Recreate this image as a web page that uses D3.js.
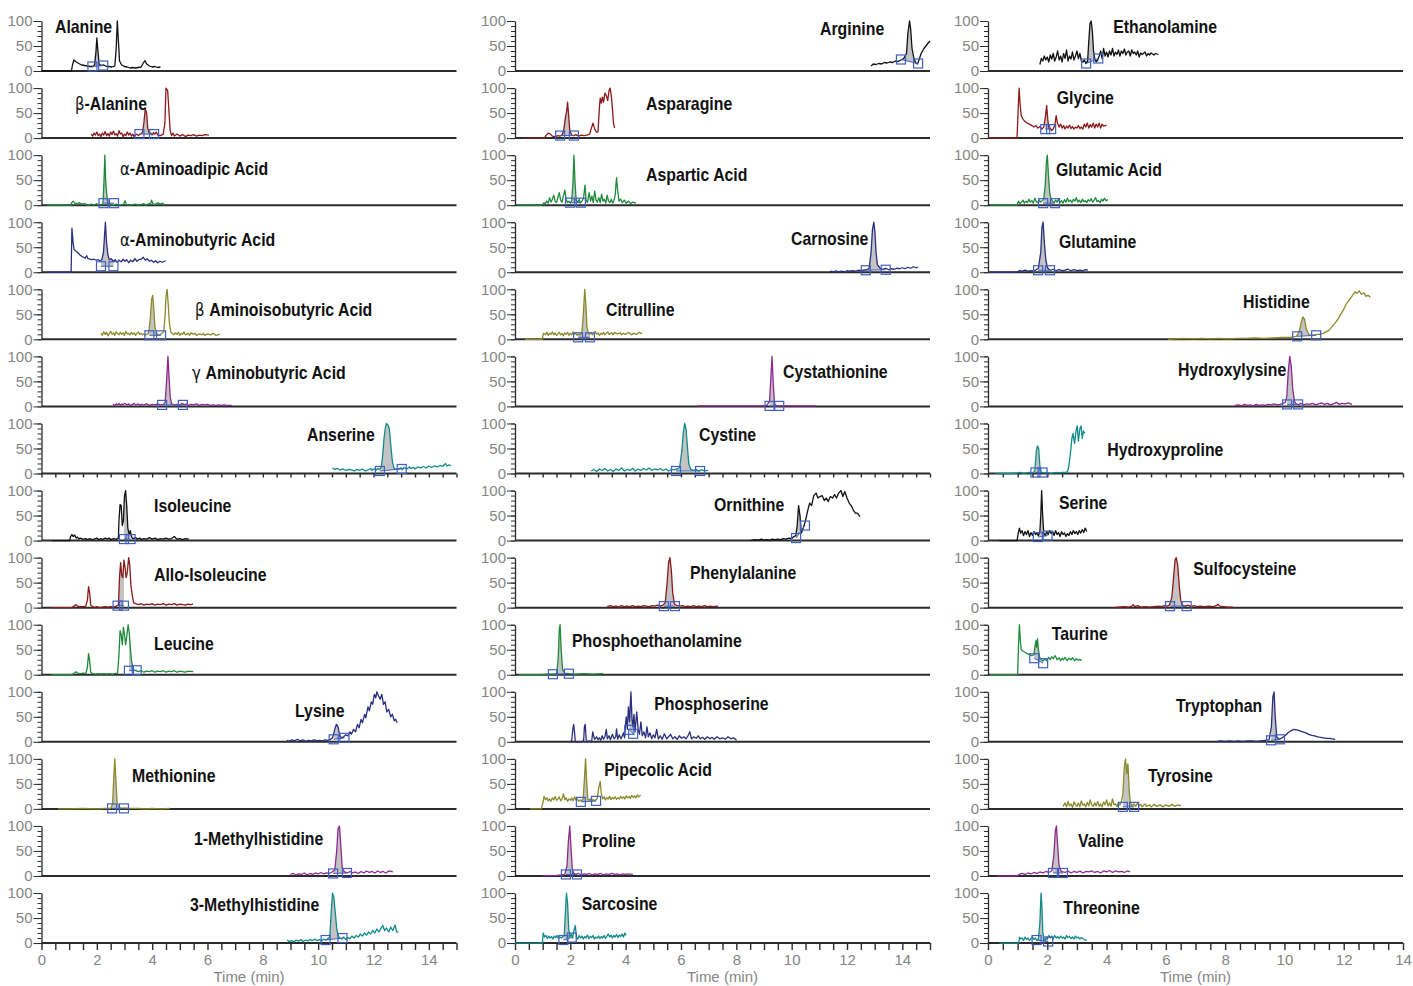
<!DOCTYPE html>
<html>
<head>
<meta charset="utf-8">
<script src="https://cdn.jsdelivr.net/npm/d3@7"></script>
<style>
  body { margin: 0; background: #fff; }
  svg { display: block; }
</style>
</head>
<body>
<script>
// ---------- compound names, top to bottom in each column ----------
const column1 = ["Alanine", "β-Alanine", "α-Aminoadipic Acid", "α-Aminobutyric Acid", "β Aminoisobutyric Acid",
  "γ Aminobutyric Acid", "Anserine", "Isoleucine", "Allo-Isoleucine", "Leucine", "Lysine", "Methionine",
  "1-Methylhistidine", "3-Methylhistidine"];
const column2 = ["Arginine", "Asparagine", "Aspartic Acid", "Carnosine", "Citrulline", "Cystathionine", "Cystine",
  "Ornithine", "Phenylalanine", "Phosphoethanolamine", "Phosphoserine", "Pipecolic Acid", "Proline", "Sarcosine"];
const column3 = ["Ethanolamine", "Glycine", "Glutamic Acid", "Glutamine", "Histidine", "Hydroxylysine",
  "Hydroxyproline", "Serine", "Sulfocysteine", "Taurine", "Tryptophan", "Tyrosine", "Valine", "Threonine"];

const traceColors = ["#111111", "#8b1a1a", "#1e8a3c", "#2a2e7e", "#8a8a2a", "#8e2a8e", "#108a8a"];

const yTickLabels = [0, 50, 100];
const timeLabels = [0, 2, 4, 6, 8, 10, 12, 14];

// ---------- chromatogram traces: [time (min), relative abundance (%)] ----------
const alanine = [[0,0],[1.08,0],[1.12,12],[1.17,22],[1.25,18],[1.35,15],[1.45,12],[1.55,11],[1.65,10],[1.75,9],[1.85,9],[1.92,12],[1.97,40],[2.0,66],[2.04,40],[2.08,14],[2.15,11],[2.25,12],[2.35,9],[2.45,9],[2.55,8],[2.65,10],[2.7,45],[2.74,100],[2.78,60],[2.82,20],[2.9,12],[3.0,9],[3.1,8],[3.2,6],[3.3,7],[3.4,6],[3.5,7],[3.6,8],[3.68,16],[3.74,21],[3.8,14],[3.9,10],[4.0,8],[4.1,9],[4.2,7],[4.3,8]];
const betaAlanine = [[1.8,8],[1.85,4],[1.9,10],[1.95,6],[2.0,12],[2.05,5],[2.1,8],[2.15,3],[2.2,10],[2.25,6],[2.3,13],[2.35,5],[2.4,9],[2.45,4],[2.5,12],[2.55,7],[2.6,14],[2.65,6],[2.7,9],[2.75,4],[2.8,15],[2.85,8],[2.9,10],[2.95,3],[3.0,8],[3.05,5],[3.1,12],[3.15,6],[3.2,10],[3.25,4],[3.3,8],[3.35,3],[3.4,6],[3.45,8],[3.5,5],[3.55,7],[3.6,9],[3.65,12],[3.7,30],[3.75,58],[3.8,50],[3.84,20],[3.9,8],[3.95,10],[4.0,6],[4.05,11],[4.1,8],[4.15,12],[4.2,6],[4.3,5],[4.4,8],[4.46,30],[4.5,100],[4.56,95],[4.6,60],[4.65,15],[4.7,5],[4.75,10],[4.8,4],[4.9,8],[5.0,4],[5.1,7],[5.2,3],[5.3,6],[5.4,5],[5.5,7],[5.6,4],[5.7,6],[5.8,5],[5.9,7],[6.05,6]];
const aminoadipicAcid = [[0.2,0],[1.05,0],[1.1,5],[1.15,8],[1.2,4],[1.3,3],[1.35,5],[1.45,2],[1.55,3],[1.7,0],[1.8,2],[1.9,0],[2.0,3],[2.05,0],[2.15,1],[2.22,2],[2.26,50],[2.29,100],[2.32,48],[2.36,20],[2.4,2],[2.5,1],[2.6,0],[2.7,2],[2.8,0],[2.9,1],[2.97,2],[3.02,9],[3.07,1],[3.2,0],[3.4,2],[3.5,0],[3.6,1],[3.7,3],[3.75,0],[3.85,2],[3.95,4],[3.98,10],[4.02,3],[4.1,1],[4.2,5],[4.3,2],[4.38,4],[4.46,0]];
const aminobutyricAcid = [[0.2,0],[1.07,0],[1.1,88],[1.14,60],[1.18,45],[1.25,42],[1.3,40],[1.38,35],[1.45,32],[1.52,30],[1.58,28],[1.63,33],[1.68,27],[1.75,26],[1.82,25],[1.9,26],[1.98,24],[2.05,25],[2.12,23],[2.18,25],[2.24,40],[2.28,75],[2.31,100],[2.35,60],[2.4,35],[2.45,25],[2.52,27],[2.6,22],[2.67,25],[2.73,20],[2.8,24],[2.88,21],[2.95,26],[3.02,22],[3.08,25],[3.15,19],[3.22,24],[3.3,21],[3.38,27],[3.45,22],[3.52,25],[3.6,26],[3.68,30],[3.75,24],[3.82,27],[3.9,22],[3.97,24],[4.05,20],[4.12,23],[4.2,19],[4.28,22],[4.36,20],[4.45,22],[4.49,23]];
const aminoisobutyricAcid = [[2.15,12],[2.2,8],[2.25,15],[2.3,10],[2.35,14],[2.4,7],[2.45,12],[2.5,16],[2.55,10],[2.6,13],[2.65,8],[2.7,15],[2.75,11],[2.8,9],[2.85,14],[2.9,10],[2.95,13],[3.0,8],[3.05,16],[3.1,11],[3.15,12],[3.2,9],[3.25,14],[3.3,10],[3.35,13],[3.4,8],[3.45,12],[3.5,15],[3.55,10],[3.6,12],[3.65,9],[3.7,11],[3.75,8],[3.8,10],[3.87,12],[3.93,40],[3.98,80],[4.02,88],[4.06,60],[4.1,25],[4.15,12],[4.2,10],[4.28,9],[4.35,12],[4.42,15],[4.47,50],[4.5,85],[4.54,100],[4.58,70],[4.62,35],[4.67,15],[4.72,12],[4.78,9],[4.85,13],[4.9,10],[4.95,14],[5.0,8],[5.05,12],[5.1,10],[5.15,15],[5.2,9],[5.3,12],[5.35,8],[5.4,13],[5.5,10],[5.55,12],[5.6,8],[5.7,11],[5.8,9],[5.85,12],[5.9,8],[6.0,11],[6.1,9],[6.2,12],[6.3,8],[6.45,10]];
const gammaAminobutyricAcid = [[2.58,4],[2.65,2],[2.7,5],[2.75,3],[2.8,6],[2.85,2],[2.9,5],[2.95,3],[3.0,6],[3.1,3],[3.15,5],[3.2,2],[3.3,4],[3.35,6],[3.4,3],[3.5,5],[3.55,2],[3.6,4],[3.7,3],[3.8,5],[3.9,2],[4.0,4],[4.1,3],[4.2,5],[4.3,3],[4.4,4],[4.47,8],[4.52,50],[4.57,100],[4.61,60],[4.65,20],[4.7,5],[4.8,3],[4.9,4],[5.0,2],[5.05,5],[5.1,6],[5.15,3],[5.25,5],[5.3,2],[5.4,4],[5.5,3],[5.6,5],[5.7,2],[5.8,4],[5.9,3],[6.0,4],[6.1,2],[6.2,3],[6.3,2],[6.4,3],[6.5,2],[6.6,3],[6.7,2],[6.88,2]];
const anserine = [[10.52,11],[10.6,8],[10.7,10],[10.8,7],[10.9,9],[11.0,6],[11.1,8],[11.2,7],[11.3,5],[11.4,8],[11.5,6],[11.6,9],[11.7,5],[11.8,7],[11.9,10],[11.95,6],[12.0,9],[12.1,7],[12.15,10],[12.2,8],[12.28,12],[12.33,35],[12.38,70],[12.43,92],[12.47,100],[12.52,97],[12.57,90],[12.62,60],[12.68,25],[12.73,12],[12.8,8],[12.9,9],[13.0,11],[13.05,8],[13.1,12],[13.2,9],[13.3,13],[13.35,10],[13.45,12],[13.5,9],[13.6,13],[13.7,11],[13.8,14],[13.9,11],[14.0,15],[14.1,12],[14.2,15],[14.3,13],[14.4,16],[14.5,14],[14.6,20],[14.65,15],[14.75,17],[14.8,15]];
const isoleucine = [[0.37,0],[1.02,0],[1.05,8],[1.1,12],[1.15,8],[1.2,11],[1.25,5],[1.3,7],[1.35,3],[1.4,5],[1.5,3],[1.6,4],[1.65,2],[1.75,4],[1.8,2],[1.9,3],[2.0,5],[2.05,2],[2.15,4],[2.2,2],[2.3,5],[2.4,3],[2.45,5],[2.5,2],[2.6,4],[2.7,3],[2.78,5],[2.8,40],[2.84,72],[2.88,70],[2.92,30],[2.96,40],[3.0,90],[3.04,100],[3.08,70],[3.12,25],[3.17,12],[3.21,20],[3.25,8],[3.3,4],[3.4,6],[3.45,3],[3.55,5],[3.6,2],[3.7,4],[3.8,3],[3.9,6],[4.0,3],[4.1,5],[4.2,2],[4.3,4],[4.4,3],[4.5,5],[4.6,3],[4.7,4],[4.8,8],[4.85,5],[4.9,3],[5.0,4],[5.1,2],[5.2,4],[5.33,3]];
const alloIsoleucine = [[0.37,0],[1.1,0],[1.2,4],[1.25,6],[1.3,3],[1.4,2],[1.5,2],[1.6,3],[1.66,15],[1.7,42],[1.74,30],[1.78,5],[1.85,2],[1.9,0],[2.0,2],[2.1,0],[2.2,1],[2.3,2],[2.4,1],[2.5,2],[2.6,1],[2.7,3],[2.78,5],[2.82,60],[2.86,90],[2.9,65],[2.94,60],[2.98,95],[3.02,80],[3.06,60],[3.1,70],[3.15,100],[3.19,85],[3.23,45],[3.28,25],[3.33,10],[3.4,8],[3.5,6],[3.6,8],[3.7,5],[3.8,7],[3.9,6],[4.0,8],[4.1,5],[4.2,7],[4.3,6],[4.4,8],[4.5,5],[4.6,7],[4.7,6],[4.8,8],[4.9,5],[5.0,7],[5.1,6],[5.2,5],[5.3,7],[5.4,6],[5.48,7]];
const leucine = [[0.37,0],[1.1,0],[1.2,4],[1.25,6],[1.3,3],[1.4,2],[1.5,3],[1.6,2],[1.66,15],[1.7,42],[1.74,28],[1.78,5],[1.85,2],[1.95,1],[2.05,2],[2.15,1],[2.25,2],[2.35,1],[2.45,2],[2.55,1],[2.65,2],[2.75,3],[2.8,40],[2.84,88],[2.88,80],[2.92,60],[2.96,95],[3.0,80],[3.04,60],[3.08,75],[3.13,100],[3.17,85],[3.21,55],[3.26,25],[3.32,10],[3.4,8],[3.5,6],[3.6,8],[3.7,5],[3.8,7],[3.9,6],[4.0,8],[4.1,5],[4.2,7],[4.3,6],[4.4,8],[4.5,5],[4.6,7],[4.7,6],[4.8,8],[4.9,5],[5.0,7],[5.1,6],[5.2,5],[5.3,7],[5.48,6]];
const lysine = [[8.87,3],[8.95,1],[9.05,4],[9.15,2],[9.25,5],[9.35,2],[9.45,4],[9.55,1],[9.65,3],[9.75,2],[9.85,4],[9.95,2],[10.05,3],[10.15,2],[10.25,4],[10.35,3],[10.45,5],[10.52,8],[10.6,25],[10.66,35],[10.72,30],[10.78,12],[10.85,8],[10.92,10],[11.0,14],[11.08,12],[11.15,20],[11.2,15],[11.28,25],[11.35,20],[11.42,35],[11.48,28],[11.55,45],[11.6,38],[11.68,55],[11.72,48],[11.8,70],[11.85,62],[11.92,80],[11.97,75],[12.03,95],[12.08,88],[12.12,100],[12.18,92],[12.24,85],[12.3,95],[12.36,75],[12.42,80],[12.48,60],[12.55,65],[12.62,50],[12.68,55],[12.75,42],[12.8,45],[12.85,38]];
const methionine = [[0.6,0],[1.0,0],[1.5,1],[2.0,0],[2.3,1],[2.5,1],[2.57,10],[2.61,60],[2.65,100],[2.69,55],[2.73,15],[2.8,3],[2.9,1],[3.0,2],[3.2,1],[3.5,1],[3.8,0],[4.0,1],[4.3,0],[4.64,1]];
const methylhistidine1 = [[9.0,3],[9.1,5],[9.2,2],[9.3,4],[9.4,3],[9.5,6],[9.6,2],[9.7,5],[9.8,3],[9.9,6],[10.0,4],[10.1,7],[10.2,4],[10.3,6],[10.4,5],[10.5,8],[10.6,12],[10.67,50],[10.72,95],[10.77,100],[10.82,60],[10.87,15],[10.95,8],[11.05,6],[11.15,9],[11.25,6],[11.35,8],[11.45,5],[11.55,9],[11.65,6],[11.75,10],[11.85,7],[11.95,9],[12.05,6],[12.15,10],[12.25,7],[12.35,9],[12.45,6],[12.55,10],[12.7,8]];
const methylhistidine3 = [[8.88,6],[8.95,3],[9.05,5],[9.12,2],[9.2,6],[9.3,4],[9.38,7],[9.45,3],[9.55,6],[9.62,4],[9.7,7],[9.8,5],[9.88,8],[9.95,5],[10.05,7],[10.12,4],[10.2,8],[10.28,6],[10.35,9],[10.42,12],[10.47,60],[10.52,100],[10.57,90],[10.62,60],[10.67,30],[10.72,15],[10.78,10],[10.85,8],[10.92,12],[11.0,7],[11.07,11],[11.15,9],[11.22,14],[11.3,10],[11.37,15],[11.45,12],[11.52,18],[11.6,14],[11.67,20],[11.75,16],[11.82,22],[11.9,18],[11.97,25],[12.05,20],[12.12,28],[12.2,22],[12.27,30],[12.34,35],[12.4,25],[12.47,30],[12.55,22],[12.62,32],[12.7,25],[12.78,36],[12.84,22],[12.9,22]];

const arginine = [[12.87,10],[12.95,14],[13.05,13],[13.15,15],[13.25,14],[13.35,17],[13.45,16],[13.55,18],[13.65,17],[13.75,20],[13.85,19],[13.95,22],[14.05,25],[14.15,35],[14.2,75],[14.26,100],[14.3,85],[14.35,45],[14.42,25],[14.5,15],[14.55,14],[14.6,22],[14.68,35],[14.78,45],[14.85,50],[14.92,55],[15.0,60]];
const asparagine = [[0.36,0],[1.06,0],[1.12,5],[1.2,10],[1.28,8],[1.35,4],[1.45,3],[1.55,5],[1.62,4],[1.7,6],[1.76,15],[1.82,40],[1.87,55],[1.9,72],[1.94,45],[1.98,15],[2.05,6],[2.12,5],[2.2,7],[2.3,4],[2.4,6],[2.5,5],[2.6,6],[2.7,8],[2.76,20],[2.82,30],[2.88,18],[2.95,12],[3.0,12],[3.05,60],[3.08,80],[3.12,70],[3.16,82],[3.2,72],[3.25,90],[3.3,85],[3.35,75],[3.4,95],[3.44,100],[3.48,85],[3.52,60],[3.56,30],[3.6,20]];
const asparticAcid = [[0.07,0],[0.98,0],[1.05,5],[1.1,3],[1.15,8],[1.2,4],[1.25,15],[1.3,6],[1.35,12],[1.4,20],[1.45,8],[1.5,5],[1.55,15],[1.6,25],[1.65,10],[1.7,6],[1.75,18],[1.8,30],[1.85,12],[1.9,5],[1.95,8],[2.0,4],[2.05,10],[2.09,40],[2.13,100],[2.17,45],[2.21,10],[2.27,6],[2.32,12],[2.36,4],[2.42,8],[2.48,15],[2.53,40],[2.57,10],[2.62,5],[2.68,25],[2.73,8],[2.78,18],[2.83,5],[2.88,28],[2.93,10],[2.98,6],[3.03,15],[3.08,5],[3.13,22],[3.18,8],[3.23,12],[3.28,4],[3.33,20],[3.38,8],[3.43,5],[3.48,12],[3.53,4],[3.58,10],[3.62,20],[3.67,55],[3.71,30],[3.76,8],[3.82,12],[3.88,5],[3.95,10],[4.02,4],[4.1,8],[4.18,3],[4.25,6],[4.37,4]];
const carnosine = [[11.38,2],[11.5,1],[11.6,3],[11.7,1],[11.8,2],[11.9,1],[12.0,3],[12.1,2],[12.2,3],[12.3,2],[12.4,4],[12.5,3],[12.6,4],[12.7,5],[12.8,8],[12.87,40],[12.92,85],[12.97,100],[13.01,80],[13.05,40],[13.1,15],[13.2,8],[13.3,6],[13.4,8],[13.5,5],[13.6,7],[13.7,6],[13.8,8],[13.9,7],[14.0,9],[14.1,7],[14.2,10],[14.3,8],[14.4,11],[14.5,9],[14.56,10]];
const citrulline = [[0.36,0],[0.98,0],[1.03,12],[1.1,9],[1.15,14],[1.2,8],[1.25,12],[1.3,10],[1.35,15],[1.4,9],[1.45,13],[1.5,8],[1.55,11],[1.6,14],[1.65,9],[1.7,12],[1.75,7],[1.8,13],[1.85,10],[1.9,14],[1.95,8],[2.0,12],[2.05,9],[2.1,15],[2.15,10],[2.2,12],[2.25,8],[2.3,11],[2.36,9],[2.42,14],[2.47,50],[2.52,100],[2.56,70],[2.6,25],[2.65,12],[2.7,10],[2.75,14],[2.8,9],[2.85,12],[2.9,16],[2.95,10],[3.0,13],[3.05,8],[3.1,12],[3.15,10],[3.2,14],[3.25,9],[3.3,12],[3.35,15],[3.4,10],[3.5,13],[3.55,9],[3.6,14],[3.7,11],[3.8,13],[3.85,9],[3.9,12],[4.0,10],[4.1,14],[4.2,9],[4.3,12],[4.4,10],[4.5,14],[4.59,11]];
const cystathionine = [[6.61,1],[7.0,1],[7.5,1],[8.0,1],[8.5,1],[8.9,1],[9.1,2],[9.2,10],[9.25,60],[9.29,100],[9.33,50],[9.38,5],[9.45,1],[9.8,1],[10.2,1],[10.5,1],[10.88,1]];
const cystine = [[2.75,5],[2.85,8],[2.95,4],[3.05,9],[3.15,6],[3.25,10],[3.35,5],[3.45,8],[3.55,4],[3.65,9],[3.75,6],[3.85,11],[3.95,5],[4.05,8],[4.15,6],[4.25,10],[4.35,5],[4.45,9],[4.55,6],[4.65,10],[4.75,7],[4.85,11],[4.95,6],[5.05,9],[5.15,7],[5.25,10],[5.35,6],[5.45,9],[5.55,5],[5.65,8],[5.75,7],[5.85,9],[5.95,12],[6.03,45],[6.08,80],[6.13,100],[6.18,90],[6.23,55],[6.28,20],[6.35,8],[6.45,6],[6.55,8],[6.65,5],[6.75,7],[6.85,5],[6.98,6]];
const ornithine = [[8.49,0],[8.6,1],[8.7,2],[8.8,1],[8.9,3],[9.0,1],[9.1,2],[9.2,1],[9.3,3],[9.4,2],[9.5,3],[9.6,2],[9.7,4],[9.8,3],[9.9,5],[10.0,4],[10.08,8],[10.15,10],[10.2,30],[10.25,70],[10.3,50],[10.35,15],[10.42,25],[10.5,40],[10.58,60],[10.65,75],[10.72,70],[10.8,90],[10.88,95],[10.95,85],[11.02,88],[11.1,90],[11.18,80],[11.25,85],[11.32,78],[11.4,88],[11.48,85],[11.55,92],[11.62,85],[11.7,95],[11.78,100],[11.85,88],[11.92,98],[12.0,85],[12.08,75],[12.15,70],[12.22,62],[12.3,55],[12.38,55],[12.47,48]];
const phenylalanine = [[3.33,2],[3.45,4],[3.55,2],[3.65,3],[3.75,1],[3.85,4],[3.95,2],[4.05,3],[4.15,2],[4.25,4],[4.35,2],[4.45,3],[4.55,2],[4.65,4],[4.75,3],[4.85,2],[4.95,4],[5.05,3],[5.15,5],[5.25,3],[5.35,5],[5.43,10],[5.5,50],[5.55,90],[5.6,100],[5.65,75],[5.7,30],[5.76,8],[5.85,4],[5.95,3],[6.05,4],[6.15,2],[6.25,3],[6.35,2],[6.45,4],[6.55,2],[6.65,3],[6.75,2],[6.85,4],[6.95,2],[7.05,3],[7.15,2],[7.34,3]];
const phosphoethanolamine = [[0.14,0],[0.9,0],[1.2,1],[1.4,1],[1.5,2],[1.56,30],[1.6,90],[1.63,100],[1.67,50],[1.72,10],[1.8,3],[1.95,2],[2.2,1],[2.5,2],[2.8,1],[3.18,2]];
const phosphoserine = [[1.99,0],[2.05,2],[2.09,25],[2.12,35],[2.15,20],[2.18,0],[2.3,0],[2.4,0],[2.48,2],[2.51,30],[2.54,35],[2.57,5],[2.62,0],[2.7,2],[2.77,0],[2.81,20],[2.84,12],[2.88,5],[2.95,10],[3.0,4],[3.05,8],[3.1,3],[3.15,12],[3.2,5],[3.25,10],[3.3,25],[3.34,6],[3.4,12],[3.45,4],[3.52,15],[3.58,6],[3.64,10],[3.67,26],[3.71,5],[3.77,14],[3.83,6],[3.88,12],[3.92,18],[3.96,8],[4.02,50],[4.06,25],[4.1,70],[4.14,40],[4.19,100],[4.23,45],[4.26,30],[4.3,55],[4.34,20],[4.4,60],[4.45,25],[4.5,15],[4.55,40],[4.6,12],[4.66,20],[4.72,8],[4.77,30],[4.82,10],[4.88,18],[4.94,6],[5.0,14],[5.06,8],[5.12,25],[5.18,6],[5.25,12],[5.32,5],[5.4,16],[5.48,6],[5.55,10],[5.62,15],[5.7,6],[5.78,10],[5.86,5],[5.94,12],[6.02,7],[6.1,10],[6.18,6],[6.25,12],[6.32,20],[6.38,6],[6.46,10],[6.55,7],[6.62,12],[6.7,6],[6.78,9],[6.86,5],[6.95,10],[7.05,6],[7.12,9],[7.2,5],[7.3,10],[7.4,6],[7.5,8],[7.6,5],[7.7,10],[7.8,6],[7.9,8],[8.01,3]];
const pipecolicAcid = [[0.54,0],[0.95,0],[1.0,10],[1.05,25],[1.1,18],[1.15,22],[1.2,16],[1.25,20],[1.3,15],[1.35,22],[1.4,18],[1.45,25],[1.5,17],[1.55,20],[1.6,24],[1.65,16],[1.7,20],[1.75,30],[1.8,18],[1.85,22],[1.9,15],[1.95,20],[2.0,17],[2.05,22],[2.1,16],[2.15,24],[2.2,18],[2.25,20],[2.3,15],[2.35,18],[2.42,16],[2.46,20],[2.5,50],[2.55,100],[2.59,55],[2.63,20],[2.68,17],[2.72,20],[2.77,15],[2.82,19],[2.87,16],[2.92,18],[2.97,20],[3.02,40],[3.08,55],[3.12,30],[3.17,20],[3.22,24],[3.27,18],[3.32,22],[3.37,20],[3.42,25],[3.47,19],[3.52,23],[3.57,20],[3.62,24],[3.67,19],[3.72,22],[3.77,20],[3.82,25],[3.87,21],[3.92,24],[3.97,20],[4.02,26],[4.07,22],[4.12,25],[4.17,21],[4.22,27],[4.27,23],[4.32,26],[4.37,22],[4.42,28],[4.47,24],[4.54,28]];
const proline = [[1.0,0],[1.5,1],[1.7,2],[1.8,3],[1.88,20],[1.93,70],[1.98,100],[2.02,60],[2.07,15],[2.12,5],[2.2,3],[2.3,5],[2.4,2],[2.5,4],[2.6,3],[2.7,5],[2.8,2],[2.9,4],[3.0,3],[3.1,5],[3.2,2],[3.3,4],[3.4,3],[3.5,5],[3.6,3],[3.7,4],[3.8,2],[3.9,4],[4.0,3],[4.1,4],[4.26,3]];
const sarcosine = [[0.0,0],[0.99,0],[1.02,20],[1.07,12],[1.12,15],[1.17,9],[1.22,14],[1.27,10],[1.32,13],[1.37,8],[1.42,14],[1.47,11],[1.52,15],[1.57,9],[1.62,12],[1.68,10],[1.73,13],[1.78,15],[1.82,60],[1.86,100],[1.9,80],[1.94,30],[1.98,12],[2.03,18],[2.08,10],[2.13,25],[2.18,35],[2.22,12],[2.27,8],[2.32,15],[2.37,10],[2.42,14],[2.47,8],[2.52,13],[2.57,10],[2.62,16],[2.67,9],[2.72,13],[2.77,11],[2.82,15],[2.87,8],[2.92,12],[2.97,10],[3.02,14],[3.07,9],[3.12,13],[3.17,10],[3.22,15],[3.27,9],[3.32,14],[3.37,18],[3.42,12],[3.47,16],[3.52,10],[3.57,15],[3.62,12],[3.67,17],[3.72,11],[3.77,16],[3.82,13],[3.87,18],[3.92,12],[3.97,20],[4.01,15]];

const ethanolamine = [[1.75,13],[1.8,25],[1.85,20],[1.9,30],[1.95,22],[2.0,28],[2.05,18],[2.1,32],[2.15,24],[2.2,35],[2.25,20],[2.3,28],[2.35,40],[2.4,22],[2.45,30],[2.5,18],[2.55,35],[2.6,25],[2.65,42],[2.7,20],[2.75,30],[2.8,24],[2.85,38],[2.9,22],[2.95,30],[3.0,40],[3.05,25],[3.1,35],[3.15,20],[3.2,18],[3.25,22],[3.3,15],[3.36,20],[3.4,60],[3.44,95],[3.48,100],[3.52,80],[3.56,40],[3.6,25],[3.65,18],[3.7,22],[3.75,30],[3.8,40],[3.85,25],[3.9,45],[3.95,30],[4.0,38],[4.05,28],[4.1,40],[4.15,32],[4.2,45],[4.25,30],[4.3,38],[4.35,33],[4.4,42],[4.45,30],[4.5,40],[4.55,35],[4.6,44],[4.65,32],[4.7,38],[4.75,40],[4.8,30],[4.85,42],[4.9,35],[4.95,38],[5.0,32],[5.05,40],[5.1,28],[5.15,36],[5.2,33],[5.3,38],[5.35,30],[5.4,35],[5.45,32],[5.5,36],[5.6,32],[5.65,35],[5.75,33]];
const glycine = [[0,0],[0.98,0],[1.02,60],[1.05,100],[1.08,70],[1.12,45],[1.18,38],[1.25,33],[1.32,30],[1.4,28],[1.48,25],[1.55,22],[1.62,25],[1.68,20],[1.75,23],[1.82,18],[1.88,22],[1.93,40],[1.98,65],[2.02,35],[2.06,18],[2.1,20],[2.15,15],[2.2,18],[2.25,25],[2.3,45],[2.34,30],[2.4,22],[2.45,28],[2.5,20],[2.55,25],[2.6,18],[2.65,24],[2.7,20],[2.75,26],[2.8,19],[2.85,23],[2.9,18],[2.95,22],[3.0,20],[3.05,25],[3.1,19],[3.15,22],[3.2,18],[3.25,28],[3.3,22],[3.35,30],[3.4,20],[3.45,27],[3.5,22],[3.55,30],[3.6,20],[3.65,28],[3.7,22],[3.75,30],[3.8,20],[3.85,28],[3.9,24],[4.0,26]];
const glutamicAcid = [[0.07,0],[0.98,0],[1.03,8],[1.08,3],[1.13,6],[1.18,10],[1.23,4],[1.28,8],[1.33,5],[1.38,12],[1.43,6],[1.48,9],[1.53,4],[1.58,14],[1.63,7],[1.68,5],[1.73,10],[1.78,6],[1.83,9],[1.88,12],[1.93,40],[1.97,85],[2.0,100],[2.04,60],[2.08,25],[2.13,12],[2.18,8],[2.23,5],[2.28,10],[2.33,6],[2.38,12],[2.43,5],[2.48,9],[2.53,4],[2.58,11],[2.63,6],[2.68,14],[2.73,7],[2.78,10],[2.83,5],[2.88,12],[2.93,8],[2.98,15],[3.03,6],[3.08,10],[3.13,5],[3.18,12],[3.23,7],[3.28,9],[3.33,5],[3.38,11],[3.43,8],[3.48,13],[3.53,6],[3.58,10],[3.63,15],[3.68,7],[3.73,9],[3.78,5],[3.83,12],[3.88,8],[3.93,14],[3.98,9],[4.05,11]];
const glutamine = [[0.07,0],[0.98,0],[1.05,3],[1.15,2],[1.25,4],[1.35,2],[1.45,3],[1.55,2],[1.62,5],[1.7,8],[1.78,40],[1.82,90],[1.86,100],[1.9,60],[1.95,25],[2.0,10],[2.05,6],[2.12,4],[2.2,6],[2.3,3],[2.4,5],[2.5,3],[2.6,4],[2.7,6],[2.8,3],[2.9,5],[3.0,3],[3.1,4],[3.2,3],[3.3,5],[3.37,4]];
const histidine = [[6.07,0],[6.3,1],[6.6,2],[6.9,1],[7.2,2],[7.5,1],[7.8,2],[8.1,1],[8.4,2],[8.7,2],[9.0,3],[9.3,2],[9.6,3],[9.9,4],[10.2,4],[10.4,6],[10.5,15],[10.57,35],[10.62,45],[10.68,40],[10.74,20],[10.82,10],[10.9,8],[11.0,9],[11.1,10],[11.2,10],[11.3,12],[11.4,15],[11.5,18],[11.6,25],[11.7,32],[11.8,40],[11.9,50],[12.0,60],[12.1,72],[12.2,80],[12.3,88],[12.38,95],[12.45,92],[12.52,97],[12.6,90],[12.68,93],[12.75,86],[12.82,88],[12.9,84]];
const hydroxylysine = [[8.33,2],[8.45,3],[8.55,1],[8.65,4],[8.75,2],[8.85,3],[8.95,1],[9.05,4],[9.15,2],[9.25,3],[9.35,2],[9.45,4],[9.55,3],[9.65,5],[9.75,3],[9.85,4],[9.95,6],[10.03,8],[10.08,20],[10.13,70],[10.18,100],[10.23,80],[10.28,35],[10.34,10],[10.4,5],[10.48,3],[10.55,6],[10.65,3],[10.75,5],[10.85,4],[10.95,6],[11.05,3],[11.15,5],[11.25,7],[11.35,4],[11.45,6],[11.55,3],[11.65,5],[11.75,8],[11.85,4],[11.95,6],[12.05,5],[12.15,7],[12.28,4]];
const hydroxyproline = [[0.24,0],[0.8,0],[1.0,1],[1.1,2],[1.2,0],[1.3,1],[1.4,2],[1.5,1],[1.58,5],[1.63,45],[1.67,55],[1.71,50],[1.75,15],[1.8,2],[1.9,1],[2.0,2],[2.1,0],[2.2,1],[2.3,2],[2.4,1],[2.5,2],[2.6,2],[2.68,3],[2.73,15],[2.78,40],[2.83,70],[2.87,80],[2.92,60],[2.97,85],[3.01,95],[3.05,65],[3.1,90],[3.14,95],[3.18,70],[3.22,85],[3.27,80]];
const serine = [[0.38,0],[0.98,0],[1.02,15],[1.06,25],[1.1,15],[1.15,20],[1.2,10],[1.25,18],[1.3,12],[1.35,20],[1.4,8],[1.45,16],[1.5,10],[1.55,18],[1.6,12],[1.65,15],[1.7,10],[1.75,18],[1.78,50],[1.81,100],[1.84,55],[1.88,15],[1.93,10],[1.98,18],[2.03,12],[2.08,20],[2.13,14],[2.18,18],[2.23,10],[2.28,20],[2.33,12],[2.38,16],[2.43,8],[2.48,18],[2.53,12],[2.58,15],[2.63,8],[2.68,14],[2.73,10],[2.78,18],[2.83,12],[2.88,20],[2.93,14],[2.98,18],[3.03,12],[3.08,20],[3.13,15],[3.18,22],[3.23,16],[3.28,25],[3.33,18]];
const sulfocysteine = [[4.23,0],[4.4,1],[4.6,2],[4.75,1],[4.85,3],[4.9,6],[4.95,2],[5.05,4],[5.15,1],[5.3,2],[5.45,1],[5.6,2],[5.75,3],[5.85,2],[5.95,4],[6.05,3],[6.12,5],[6.2,20],[6.26,60],[6.31,95],[6.35,100],[6.4,85],[6.45,45],[6.5,15],[6.56,5],[6.65,3],[6.75,5],[6.85,2],[6.95,4],[7.05,2],[7.15,3],[7.3,2],[7.45,3],[7.6,2],[7.7,4],[7.76,7],[7.82,3],[7.95,2],[8.1,1],[8.26,1]];
const taurine = [[0.07,0],[1.0,0],[1.03,60],[1.06,100],[1.09,70],[1.12,50],[1.18,47],[1.25,45],[1.32,42],[1.4,40],[1.48,38],[1.55,40],[1.58,55],[1.62,68],[1.64,55],[1.67,72],[1.7,50],[1.74,35],[1.8,30],[1.86,28],[1.92,32],[1.98,28],[2.05,35],[2.1,30],[2.15,36],[2.2,32],[2.27,38],[2.33,30],[2.4,34],[2.45,28],[2.5,33],[2.55,30],[2.6,35],[2.67,28],[2.73,33],[2.8,30],[2.86,34],[2.92,28],[2.98,32],[3.05,29],[3.1,31],[3.16,28]];
const tryptophan = [[7.73,1],[7.85,2],[8.0,1],[8.15,2],[8.3,1],[8.45,2],[8.6,1],[8.75,2],[8.9,2],[9.05,1],[9.2,2],[9.35,3],[9.48,4],[9.56,30],[9.61,90],[9.65,100],[9.69,50],[9.74,10],[9.82,5],[9.92,8],[10.02,12],[10.12,18],[10.22,22],[10.32,25],[10.42,24],[10.52,22],[10.62,20],[10.72,18],[10.82,15],[10.92,13],[11.02,12],[11.12,10],[11.22,9],[11.32,8],[11.42,7],[11.52,7],[11.62,6],[11.71,5]];
const tyrosine = [[2.53,5],[2.6,12],[2.65,4],[2.7,15],[2.75,6],[2.8,10],[2.85,3],[2.9,14],[2.95,8],[3.0,5],[3.05,12],[3.1,4],[3.15,16],[3.2,7],[3.25,10],[3.3,4],[3.35,13],[3.4,6],[3.45,18],[3.5,8],[3.55,5],[3.6,12],[3.65,6],[3.7,15],[3.75,5],[3.8,10],[3.85,4],[3.9,14],[3.95,8],[4.0,18],[4.05,6],[4.1,12],[4.15,5],[4.2,20],[4.25,8],[4.3,10],[4.35,5],[4.4,12],[4.45,8],[4.5,15],[4.55,30],[4.6,85],[4.64,100],[4.68,70],[4.72,90],[4.76,40],[4.8,12],[4.86,6],[4.92,10],[4.98,5],[5.05,12],[5.1,6],[5.15,9],[5.2,4],[5.3,10],[5.35,5],[5.45,8],[5.5,4],[5.6,9],[5.7,5],[5.8,8],[5.9,4],[6.0,8],[6.1,5],[6.2,9],[6.3,5],[6.4,8],[6.51,6]];
const valine = [[0.3,0],[0.98,0],[1.05,3],[1.15,5],[1.25,3],[1.35,6],[1.45,4],[1.55,7],[1.65,5],[1.75,8],[1.85,6],[1.95,9],[2.05,7],[2.15,10],[2.22,40],[2.27,90],[2.31,100],[2.35,60],[2.4,20],[2.46,10],[2.53,8],[2.6,7],[2.7,10],[2.8,6],[2.9,9],[3.0,7],[3.1,10],[3.2,6],[3.3,9],[3.4,8],[3.5,10],[3.6,7],[3.7,9],[3.8,6],[3.9,10],[4.0,8],[4.1,11],[4.2,7],[4.3,10],[4.4,8],[4.5,9],[4.6,7],[4.7,10],[4.79,8]];
const threonine = [[0.38,0],[1.04,0],[1.06,12],[1.1,8],[1.15,10],[1.2,5],[1.25,12],[1.3,7],[1.35,10],[1.4,5],[1.45,9],[1.5,12],[1.55,7],[1.6,10],[1.65,5],[1.7,8],[1.75,40],[1.79,100],[1.82,70],[1.85,20],[1.89,8],[1.93,5],[1.97,12],[2.0,8],[2.05,15],[2.1,10],[2.15,14],[2.2,8],[2.25,15],[2.3,10],[2.35,13],[2.4,9],[2.45,14],[2.5,10],[2.55,12],[2.6,8],[2.65,15],[2.7,11],[2.75,13],[2.8,9],[2.85,12],[2.9,8],[2.95,14],[3.0,10],[3.05,12],[3.1,8],[3.15,11],[3.2,9],[3.25,7],[3.33,6]];

// ---------- peak integration: [start time, start level, end time, end level] ----------
const windows1 = [[1.84,9,2.23,11],[3.54,8,4.07,8],[2.24,4,2.62,4],[2.15,12,2.6,12],[3.9,8,4.32,8],[4.36,3,5.11,3],
  [12.23,5,13.02,9],[2.98,3,3.22,3],[2.75,4,2.98,4],[3.16,8,3.44,9],[10.56,5,10.95,8],[2.55,1,2.98,1],
  [10.54,5,11.04,6],[10.27,6,10.88,10]];
const windows2 = [[13.95,23,14.57,15],[1.63,5,2.13,5],[1.99,5,2.38,5],[12.68,4,13.4,5],[2.28,4,2.71,4],[9.2,1,9.55,1],
  [5.82,5,6.69,5],[10.16,5,10.48,30],[5.38,3,5.78,3],[1.37,1,1.95,2],[4.13,24,4.27,16],[2.38,14,2.93,16],
  [1.84,3,2.24,3],[1.75,6,2.05,11]];
const windows3 = [[3.31,15,3.72,25],[1.93,18,2.13,18],[1.86,4,2.26,4],[1.69,4,2.09,4],[10.43,6,11.07,8],[10.09,4,10.46,4],
  [1.6,2,1.84,2],[1.68,7,2.01,10],[6.14,3,6.7,3],[1.56,33,1.86,23],[9.55,3,9.85,5],[4.55,4,4.93,4],
  [2.19,6,2.53,6],[1.64,6,2.03,3]];

const traces1 = [alanine, betaAlanine, aminoadipicAcid, aminobutyricAcid, aminoisobutyricAcid, gammaAminobutyricAcid,
  anserine, isoleucine, alloIsoleucine, leucine, lysine, methionine, methylhistidine1, methylhistidine3];
const traces2 = [arginine, asparagine, asparticAcid, carnosine, citrulline, cystathionine, cystine, ornithine,
  phenylalanine, phosphoethanolamine, phosphoserine, pipecolicAcid, proline, sarcosine];
const traces3 = [ethanolamine, glycine, glutamicAcid, glutamine, histidine, hydroxylysine, hydroxyproline, serine,
  sulfocysteine, taurine, tryptophan, tyrosine, valine, threonine];

// ---------- layout ----------
const W = 1413, H = 986;
const panelTop0 = 21, rowPitch = 67.08, panelH = 50;
const columnLayout = [
  { x0: 41.5, x1: 456.5, tMax: 15 },
  { x0: 515, x1: 930, tMax: 15 },
  { x0: 988, x1: 1403, tMax: 14 }
];
// name label anchor per panel: [offset right of y axis, label mid-height below panel top]
const labelOffsets1 = [[13.5,6],[33.5,16],[78.5,13],[78.5,17],[153.5,20],[150.5,16],[265.5,11.5],[112.5,15.4],
  [112.5,17.4],[112.5,19],[253.5,19.2],[90.5,17.1],[152.5,13],[148.5,12]];
const labelOffsets2 = [[305,7.3],[131,15.2],[131,19.8],[276,16.8],[91,20.7],[268,15.6],[184,11.5],[199,14.4],
  [175,15.4],[57,16.3],[139.3,12.2],[89.3,10.4],[67,15],[66.7,11]];
const labelOffsets3 = [[125.3,5.7],[68.7,9.2],[68,14.8],[71,19.8],[255,12.7],[190,13.6],[119.3,26.5],[71,12.1],
  [205.3,10.7],[63.7,8.6],[188,14.2],[160,17.1],[90,15],[75.3,14.3]];

const columns = [
  { names: column1, traces: traces1, windows: windows1, labels: labelOffsets1 },
  { names: column2, traces: traces2, windows: windows2, labels: labelOffsets2 },
  { names: column3, traces: traces3, windows: windows3, labels: labelOffsets3 }
];

const sansFont = "'Liberation Sans', Arial, Helvetica, sans-serif";
const tickGray = "#858585";
const axisDark = "#2b2b2b";
const boxBlue = "#3f5fbf";

const svg = d3.select("body").append("svg")
  .attr("width", W).attr("height", H)
  .attr("viewBox", `0 0 ${W} ${H}`);

const byTime = d3.bisector(d => d[0]).left;
function levelAt(trace, t) {
  const i = byTime(trace, t);
  if (i <= 0) return trace[0][1];
  if (i >= trace.length) return trace[trace.length - 1][1];
  const a = trace[i - 1], b = trace[i];
  return a[1] + (b[1] - a[1]) * (t - a[0]) / (b[0] - a[0]);
}

const nRows = column1.length;

columns.forEach((col, c) => {
  const lay = columnLayout[c];
  const x = d3.scaleLinear().domain([0, lay.tMax]).range([lay.x0, lay.x1]);
  const y = d3.scaleLinear().domain([0, 100]).range([panelH, 0]);
  const line = d3.line().x(d => x(d[0])).y(d => y(d[1]));

  col.names.forEach((name, r) => {
    const top = panelTop0 + r * rowPitch;
    const g = svg.append("g").attr("transform", `translate(0,${top})`);
    const trace = col.traces[r];
    const [t1, v1, t2, v2] = col.windows[r];
    const color = traceColors[r % traceColors.length];

    // y axis: minor ticks every 10, labelled ticks at 0 / 50 / 100
    const yMinor = g.append("g").attr("transform", `translate(${lay.x0},0)`)
      .call(d3.axisLeft(y).tickValues(d3.range(0, 101, 10)).tickSize(4).tickSizeOuter(0).tickFormat(""));
    yMinor.select(".domain").attr("stroke", axisDark).attr("stroke-width", 1.3);
    yMinor.selectAll(".tick line").attr("stroke", axisDark).attr("stroke-width", 1);
    const yMajor = g.append("g").attr("transform", `translate(${lay.x0},0)`)
      .call(d3.axisLeft(y).tickValues(yTickLabels).tickSize(8).tickPadding(1).tickSizeOuter(0));
    yMajor.select(".domain").remove();
    yMajor.selectAll(".tick line").attr("stroke", axisDark).attr("stroke-width", 1);
    yMajor.selectAll(".tick text").attr("font-family", sansFont).attr("font-size", 15).attr("fill", tickGray);

    // x axis ticks on the last row of each half
    if (r === nRows - 1 || r === 6) {
      const last = r === nRows - 1;
      const xAxis = g.append("g").attr("transform", `translate(0,${panelH})`)
        .call(d3.axisBottom(x).tickValues(d3.range(0, lay.tMax + 0.01, 0.5))
          .tickSize(last ? 7 : 4).tickPadding(4).tickSizeOuter(0)
          .tickFormat(d => (last && timeLabels.includes(d)) ? d : ""));
      xAxis.select(".domain").remove();
      xAxis.selectAll(".tick line").attr("stroke", axisDark).attr("stroke-width", 1.4);
      xAxis.selectAll(".tick text").attr("font-family", sansFont).attr("font-size", 15).attr("fill", tickGray);
    }

    // x baseline
    g.append("line")
      .attr("x1", lay.x0).attr("x2", lay.x1).attr("y1", y(0)).attr("y2", y(0))
      .attr("stroke", axisDark).attr("stroke-width", 2);

    // integrated peak area between trace and the integration baseline
    const inside = trace.filter(d => d[0] > t1 && d[0] < t2);
    const area = [[t1, levelAt(trace, t1)], ...inside, [t2, levelAt(trace, t2)], [t2, v2], [t1, v1]];
    g.append("path")
      .attr("d", d3.line().x(d => x(d[0])).y(d => y(d[1]))(area) + "Z")
      .attr("fill", "#bdbdbd").attr("fill-opacity", 0.9).attr("stroke", "none");

    // chromatogram trace
    g.append("path").datum(trace)
      .attr("d", line)
      .attr("fill", "none").attr("stroke", color).attr("stroke-width", 1.3)
      .attr("stroke-linejoin", "round");

    // integration baseline and its end markers
    g.append("line")
      .attr("x1", x(t1)).attr("y1", y(v1)).attr("x2", x(t2)).attr("y2", y(v2))
      .attr("stroke", boxBlue).attr("stroke-width", 1);
    g.selectAll("rect.marker").data([[t1, v1], [t2, v2]]).enter().append("rect")
      .attr("class", "marker")
      .attr("x", d => x(d[0]) - 4.5).attr("y", d => y(d[1]) - 4.5)
      .attr("width", 9).attr("height", 9)
      .attr("fill", "none").attr("stroke", boxBlue).attr("stroke-width", 1.2);

    // compound name
    const [dx, dy] = col.labels[r];
    const label = g.append("text")
      .attr("transform", `translate(${lay.x0 + dx},${dy + 6.4}) scale(0.88,1)`)
      .attr("font-family", sansFont).attr("font-size", 18).attr("font-weight", "bold").attr("fill", "#111");
    const m = name.match(/^([αβγ])(\s?)(.*)$/);
    if (m) {
      label.append("tspan").attr("font-weight", "normal").attr("font-family", "'DejaVu Sans', sans-serif")
        .attr("font-size", 17).text(m[1] + (m[2] ? "\u00a0" : ""));
      label.append("tspan").text(m[3]);
    } else {
      label.text(name);
    }
  });

  // axis title under each column
  svg.append("text")
    .attr("x", (lay.x0 + lay.x1) / 2).attr("y", 982)
    .attr("text-anchor", "middle")
    .attr("font-family", sansFont).attr("font-size", 15).attr("fill", tickGray)
    .text("Time (min)");
});
</script>
</body>
</html>
